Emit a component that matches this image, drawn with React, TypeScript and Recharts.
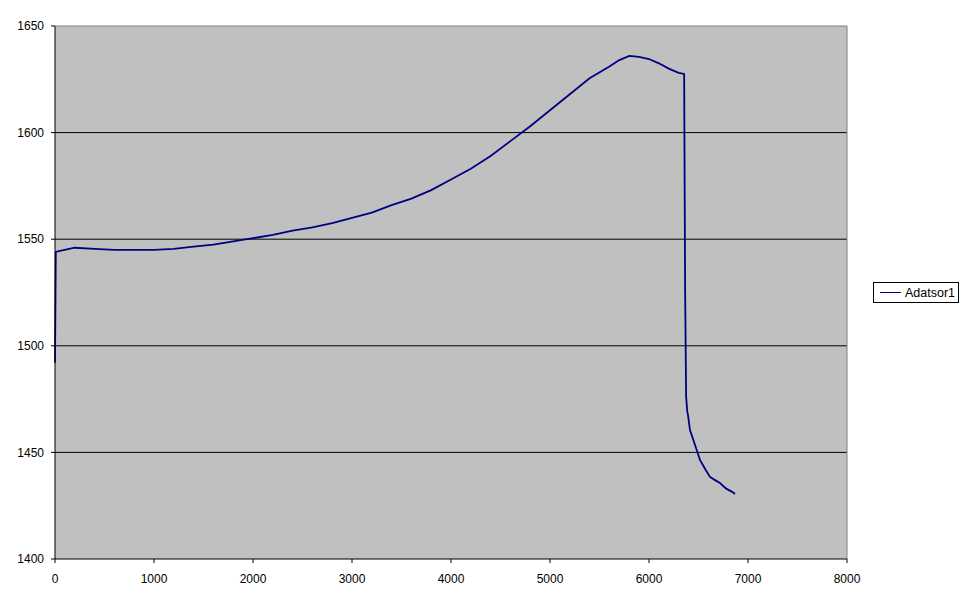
import React from "react";
import { LineChart, Line, XAxis, YAxis, CartesianGrid, ReferenceLine } from "recharts";

const xValues = [0, 8, 50, 200, 400, 600, 800, 1000, 1200, 1400, 1600, 1800, 2000, 2200, 2400, 2600, 2800, 3000, 3200, 3400, 3600, 3800, 4000, 4200, 4400, 4600, 4800, 5000, 5200, 5400, 5600, 5700, 5800, 5900, 6000, 6100, 6200, 6300, 6355, 6365, 6375, 6387, 6394, 6414, 6465, 6515, 6570, 6616, 6667, 6717, 6780, 6840, 6869];
const yValues = [1492, 1544, 1544.5, 1546, 1545.5, 1545, 1545, 1545, 1545.5, 1546.5, 1547.5, 1549, 1550.5, 1552, 1554, 1555.5, 1557.5, 1560, 1562.5, 1566, 1569, 1573, 1578, 1583, 1589, 1596, 1603, 1610.5, 1618, 1625.5, 1631, 1634, 1636, 1635.5, 1634.5, 1632.5, 1630, 1628, 1627.5, 1526, 1476, 1469, 1467.5, 1460.5, 1453.5, 1446.5, 1442, 1438.5, 1437, 1435.6, 1433, 1431.5, 1430.5];
const xTicks = [0, 1000, 2000, 3000, 4000, 5000, 6000, 7000, 8000];
const yTicks = [1400, 1450, 1500, 1550, 1600, 1650];
const gridValues = [1450, 1500, 1550, 1600];
const seriesName = "Adatsor1";

const data = xValues.map((x, i) => ({ x, y: yValues[i] }));

const font = "'Liberation Sans', Arial, sans-serif";

export default function App() {
  return (
    <div style={{ position: "absolute", left: 0, top: 0, width: 971, height: 605, background: "#fff" }}>
      <LineChart width={971} height={605} data={data} margin={{ top: 26, right: 124, bottom: 0, left: 0 }}>
        <CartesianGrid
          vertical={false}
          horizontalValues={gridValues}
          stroke="#000"
          strokeDasharray=""
          fill="#C0C0C0"
          fillOpacity={1}
        />
        <ReferenceLine y={1650} stroke="#808080" strokeWidth={1} />
        <ReferenceLine x={8000} stroke="#808080" strokeWidth={1} />
        <XAxis
          dataKey="x"
          type="number"
          domain={[0, 8000]}
          ticks={xTicks}
          interval={0}
          height={46}
          tickSize={4}
          tickMargin={11}
          axisLine={{ stroke: "#000" }}
          tickLine={{ stroke: "#000" }}
          tick={{ fill: "#000", fontSize: 12, fontFamily: font }}
        />
        <YAxis
          type="number"
          domain={[1400, 1650]}
          ticks={yTicks}
          interval={0}
          width={55}
          tickSize={4}
          tickMargin={7}
          axisLine={{ stroke: "#000" }}
          tickLine={{ stroke: "#000" }}
          tick={{ fill: "#000", fontSize: 12, fontFamily: font }}
        />
        <Line
          type="linear"
          dataKey="y"
          name={seriesName}
          stroke="#000080"
          strokeWidth={1.8}
          dot={false}
          activeDot={false}
          isAnimationActive={false}
        />
      </LineChart>
      <div
        style={{
          position: "absolute",
          left: 873,
          top: 282,
          width: 86,
          height: 21,
          border: "1px solid #000",
          background: "#fff",
          boxSizing: "border-box",
          display: "flex",
          alignItems: "center",
          fontFamily: font,
          fontSize: 12.5,
          color: "#000",
        }}
      >
        <span style={{ display: "inline-block", width: 21, height: 1, background: "#000080", marginLeft: 6, marginRight: 4 }} />
        <span>{seriesName}</span>
      </div>
    </div>
  );
}
